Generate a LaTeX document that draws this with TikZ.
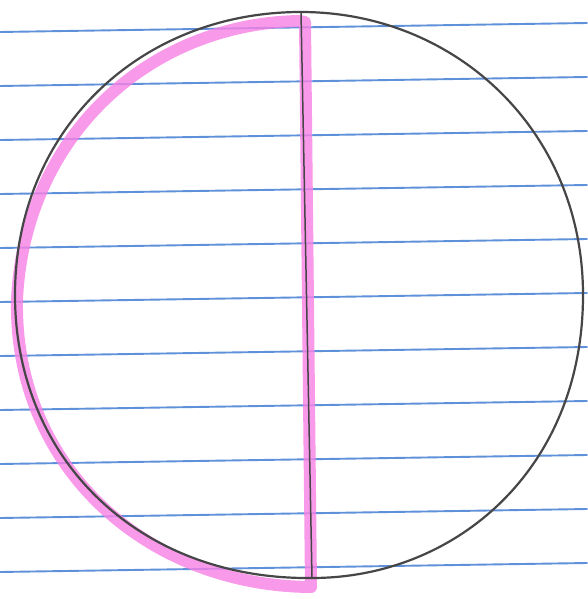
\documentclass[tikz,border=0pt]{standalone}
\usepackage{xcolor}
\usetikzlibrary{calc}
\definecolor{ruleblue}{RGB}{95,145,218}
\definecolor{hilite}{RGB}{248,128,228}
\definecolor{pencil}{RGB}{70,70,72}

\begin{document}
\begin{tikzpicture}[
  x=1pt, y=-1pt,
  line cap=round, line join=round,
  rule/.style={ruleblue, line width=1.9pt},
  marker/.style={hilite, line width=12pt, opacity=0.8},
  rim/.style={pencil, line width=2.2pt}
]
  % paper and ruled lines
  \fill[white] (0,0) rectangle (587,599);
  \useasboundingbox (0,0) rectangle (587,599);
  \foreach \i in {0,...,10}
    \draw[rule] (0,{32+54*\i}) -- (587,{23+54*\i});
  % ends of the diameter
  \coordinate (top) at (301,12);
  \coordinate (bot) at (312,578);
  % highlighted half: left arc and diameter
  \draw[marker] (299,21) .. controls (145,24) and (24,140) .. (17,300)
    .. controls (14,470) and (150,586) .. (311,587) -- (305,22) -- cycle;
  % the circle
  \draw[rim] (top) .. controls (455,12) and (583,130) .. (583,295)
    .. controls (583,470) and (455,578) .. (bot)
    .. controls (140,580) and (15,460) .. (15,295)
    .. controls (15,130) and (140,12) .. (top);
  \draw[pencil, line width=1.5pt] (top) -- (bot);
\end{tikzpicture}
\end{document}
